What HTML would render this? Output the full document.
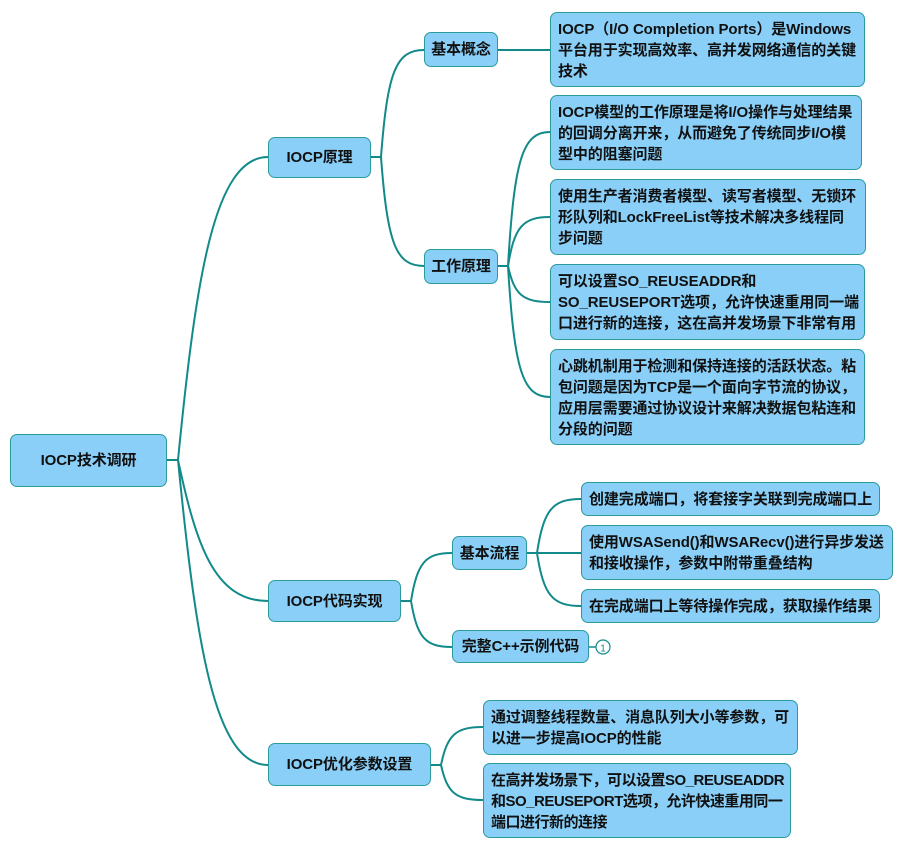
<!DOCTYPE html>
<html><head><meta charset="utf-8"><style>
body{margin:0;width:899px;height:842px;background:#fff;position:relative;overflow:hidden;font-family:"Liberation Sans","Noto Sans CJK SC",sans-serif;}
.b{position:absolute;box-sizing:border-box;background:#89cff8;border:1.5px solid #2a9c9c;border-radius:7px;font-size:15px;font-weight:bold;color:#111;line-height:21px;padding:6px 7px;white-space:nowrap;letter-spacing:-0.1px;}
.c{display:flex;align-items:center;justify-content:center;padding:0;}
svg{position:absolute;left:0;top:0;}
</style></head><body>
<svg width="899" height="842" fill="none" stroke="#138a8a" stroke-width="2">
<path d="M167 460H178C196 278 214 157 268 157"/>
<path d="M167 460H178C196 544 214 601 268 601"/>
<path d="M167 460H178C196 642 214 765 268 765"/>
<path d="M371 157H381C387.5 71.4 396 50 424 50"/>
<path d="M371 157H381C387.5 244.2 396 266 424 266"/>
<path d="M498 50H550"/>
<path d="M498 266H508C514.3 158.8 522.7 132 550 132"/>
<path d="M498 266H508C514.3 226.8 522.7 217 550 217"/>
<path d="M498 266H508C514.3 294.8 522.7 302 550 302"/>
<path d="M498 266H508C514.3 370.8 522.7 397 550 397"/>
<path d="M401 601H411C417.2 562.6 425.4 553 452 553"/>
<path d="M401 601H411C417.2 637.8 425.4 647 452 647"/>
<path d="M527 553H537C543.6 509.8 552.4 499 581 499"/>
<path d="M527 553H581"/>
<path d="M527 553H537C543.6 595.4 552.4 606 581 606"/>
<path d="M431 765H441C447.3 734.6 455.7 727 483 727"/>
<path d="M431 765H441C447.3 793 455.7 800 483 800"/>
<path d="M589 647H596" stroke-width="1.5"/>
<circle cx="603" cy="647" r="7" fill="#fff" stroke-width="1.2"/>
<text x="603" y="651.5" font-size="10" fill="#138a8a" stroke="none" text-anchor="middle" font-family="Liberation Sans">1</text>
</svg>
<div class="b c" style="left:10px;top:434px;width:157px;height:53px;">IOCP技术调研</div>
<div class="b c" style="left:268px;top:137px;width:103px;height:41px;">IOCP原理</div>
<div class="b c" style="left:424px;top:32px;width:74px;height:35px;">基本概念</div>
<div class="b" style="left:550px;top:12px;width:315px;height:75px;">IOCP（I/O Completion Ports）是Windows<br>平台用于实现高效率、高并发网络通信的关键<br>技术</div>
<div class="b c" style="left:424px;top:249px;width:74px;height:35px;">工作原理</div>
<div class="b" style="left:550px;top:95px;width:312px;height:75px;">IOCP模型的工作原理是将I/O操作与处理结果<br>的回调分离开来，从而避免了传统同步I/O模<br>型中的阻塞问题</div>
<div class="b" style="left:550px;top:179px;width:316px;height:76px;">使用生产者消费者模型、读写者模型、无锁环<br>形队列和LockFreeList等技术解决多线程同<br>步问题</div>
<div class="b" style="left:550px;top:264px;width:315px;height:76px;">可以设置SO_REUSEADDR和<br>SO_REUSEPORT选项，允许快速重用同一端<br>口进行新的连接，这在高并发场景下非常有用</div>
<div class="b" style="left:550px;top:349px;width:315px;height:96px;">心跳机制用于检测和保持连接的活跃状态。粘<br>包问题是因为TCP是一个面向字节流的协议，<br>应用层需要通过协议设计来解决数据包粘连和<br>分段的问题</div>
<div class="b c" style="left:268px;top:580px;width:133px;height:42px;">IOCP代码实现</div>
<div class="b c" style="left:452px;top:536px;width:75px;height:34px;">基本流程</div>
<div class="b" style="left:581px;top:482px;width:299px;height:34px;">创建完成端口，将套接字关联到完成端口上</div>
<div class="b" style="left:581px;top:525px;width:312px;height:55px;">使用WSASend()和WSARecv()进行异步发送<br>和接收操作，参数中附带重叠结构</div>
<div class="b" style="left:581px;top:589px;width:299px;height:34px;">在完成端口上等待操作完成，获取操作结果</div>
<div class="b c" style="left:452px;top:630px;width:137px;height:33px;">完整C++示例代码</div>
<div class="b c" style="left:268px;top:743px;width:163px;height:43px;">IOCP优化参数设置</div>
<div class="b" style="left:483px;top:700px;width:315px;height:55px;">通过调整线程数量、消息队列大小等参数，可<br>以进一步提高IOCP的性能</div>
<div class="b" style="left:483px;top:763px;width:308px;height:75px;letter-spacing:-0.5px;">在高并发场景下，可以设置SO_REUSEADDR<br>和SO_REUSEPORT选项，允许快速重用同一<br>端口进行新的连接</div>
</body></html>
